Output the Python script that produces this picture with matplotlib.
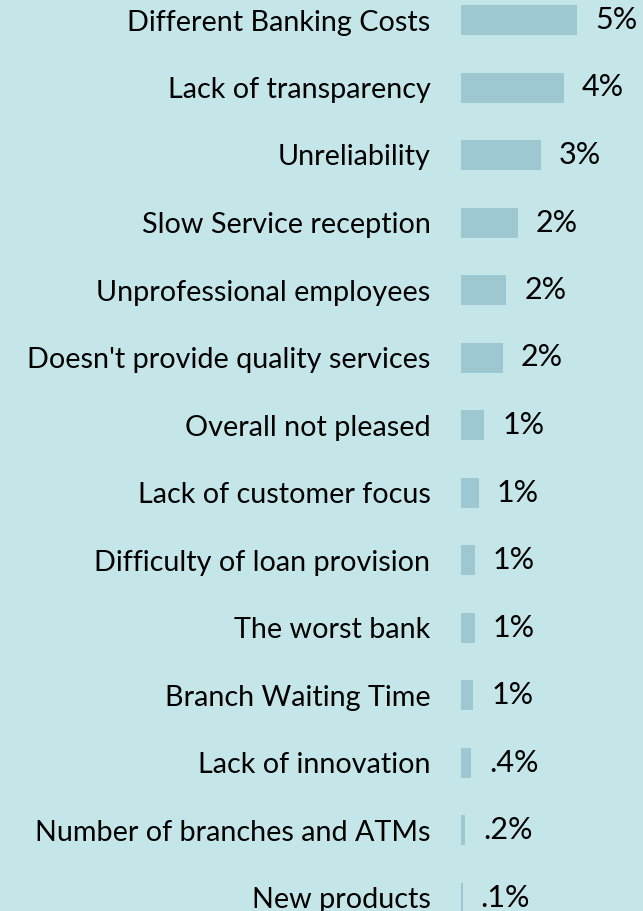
import matplotlib.pyplot as plt

# reasons for dissatisfaction, share of respondents (%)
reasons = [
    "Different Banking Costs",
    "Lack of transparency",
    "Unreliability",
    "Slow Service reception",
    "Unprofessional employees",
    "Doesn't provide quality services",
    "Overall not pleased",
    "Lack of customer focus",
    "Difficulty of loan provision",
    "The worst bank",
    "Branch Waiting Time",
    "Lack of innovation",
    "Number of branches and ATMs",
    "New products",
]
shares = [5.0, 4.44, 3.45, 2.45, 1.95, 1.81, 1.0, 0.76, 0.6, 0.6, 0.53, 0.43, 0.17, 0.07]

bg = "#c5e6e8"
bar_color = "#9dc8d2"


def fmt(v):
    # whole percent from .5 up, otherwise one decimal without leading zero
    if v >= 0.5:
        return "%d%%" % round(v)
    return ".%d%%" % round(v * 10)


W, H = 643, 911
fig = plt.figure(figsize=(W / 100, H / 100), dpi=100, facecolor=bg)
ax = fig.add_axes([461 / W, 0, (W - 461) / W, 1])
ax.set_facecolor(bg)

y = list(range(len(reasons)))
ax.barh(y, shares, height=30 / 67.5, color=bar_color, align="center")

ax.set_xlim(0, (W - 461) / 23.2)
ax.set_ylim(13 + (H - 897.5) / 67.5, -20 / 67.5)

ax.set_yticks(y)
ax.set_yticklabels(reasons, fontsize=20.7, family="Lato", color="black")
ax.tick_params(axis="y", length=0, pad=22)
ax.set_xticks([])
for s in ax.spines.values():
    s.set_visible(False)

for i, v in enumerate(shares):
    ax.annotate(fmt(v), (v, i), xytext=(13, 0), textcoords="offset points",
                ha="left", va="center", fontsize=22, family=["Lato", "DejaVu Sans"],
                fontweight="normal", color="black")

fig.savefig("out.png", dpi=100, facecolor=bg)
